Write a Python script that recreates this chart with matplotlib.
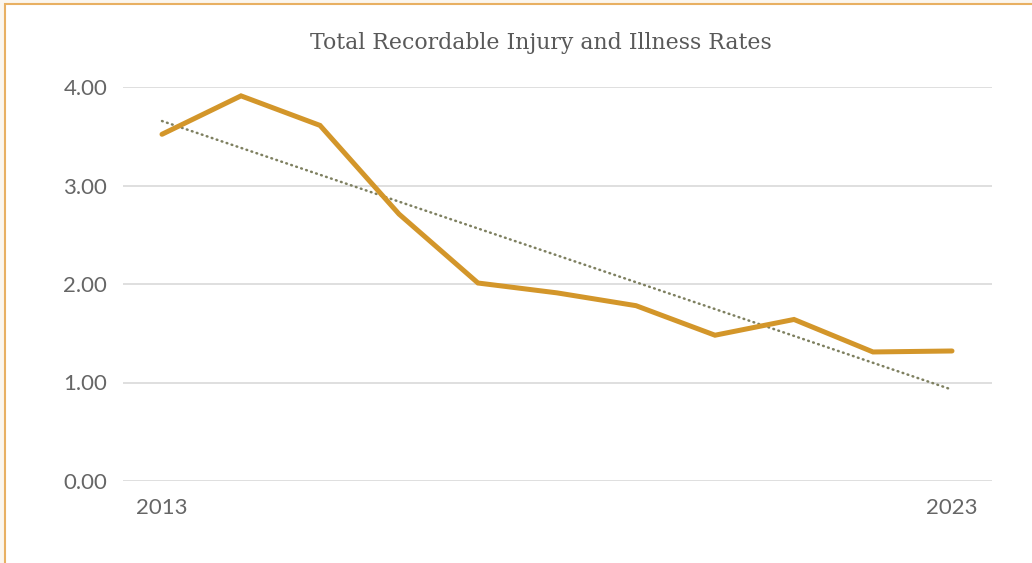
import numpy as np
import matplotlib
matplotlib.use("Agg")
import matplotlib.pyplot as plt
from matplotlib.patches import Rectangle

years = [2013, 2014, 2015, 2016, 2017, 2018, 2019, 2020, 2021, 2022, 2023]
rates = [3.52, 3.91, 3.61, 2.71, 2.01, 1.91, 1.78, 1.48, 1.64, 1.31, 1.32]
y_ticks = [0, 1, 2, 3, 4]
y_tick_labels = ["0.00", "1.00", "2.00", "3.00", "4.00"]
x_tick_labels = ["2013", "2023"]
title = "Total Recordable Injury and Illness Rates"

W, H = 1032, 563
fig = plt.figure(figsize=(W / 100, H / 100), dpi=100)
fig.patch.set_facecolor("#FBF6EE")
# white chart panel with orange border on top/left
fig.patches.append(Rectangle((5 / W, -0.2), 1.2, 1.2 - 4 / H, transform=fig.transFigure,
                             facecolor="white", edgecolor="#E8B062", linewidth=1.5,
                             zorder=-5))

ax = fig.add_axes([122.5 / W, 82 / H, 869 / W, 394 / H])
ax.set_facecolor("none")
ax.set_zorder(2)

idx = np.arange(len(years))
ax.plot(idx, rates, color="#D3962A", linewidth=3.6, solid_capstyle="round",
        solid_joinstyle="miter", zorder=3)

coef = np.polyfit(idx, rates, 1)
trend = np.polyval(coef, idx)
ax.plot(idx, trend, color="#7E8060", linewidth=1.8, linestyle=(0, (0.3, 1.8)),
        dash_capstyle="round", zorder=2)

ax.set_xlim(-0.5, len(years) - 0.5)
ax.set_ylim(0, 4)
ax.set_yticks(y_ticks)
ax.set_yticklabels(y_tick_labels)
ax.set_xticks([0, len(years) - 1])
ax.set_xticklabels(x_tick_labels)

ax.grid(axis="y", color="#D9D9D9", linewidth=1.2, zorder=1)
ax.set_axisbelow(True)
for s in ax.spines.values():
    s.set_visible(False)
ax.tick_params(axis="y", length=0, labelsize=16, labelcolor="#666666", pad=11)
ax.tick_params(axis="x", length=0, labelsize=16, labelcolor="#666666", pad=12)
for lbl in ax.get_xticklabels() + ax.get_yticklabels():
    lbl.set_fontfamily("Lato")

fig.text(541 / W, 1 - 43 / H, title, ha="center", va="center",
         fontsize=15.8, color="#595959", fontfamily="DejaVu Serif")

fig.savefig("out.png", dpi=100, facecolor=fig.get_facecolor())
